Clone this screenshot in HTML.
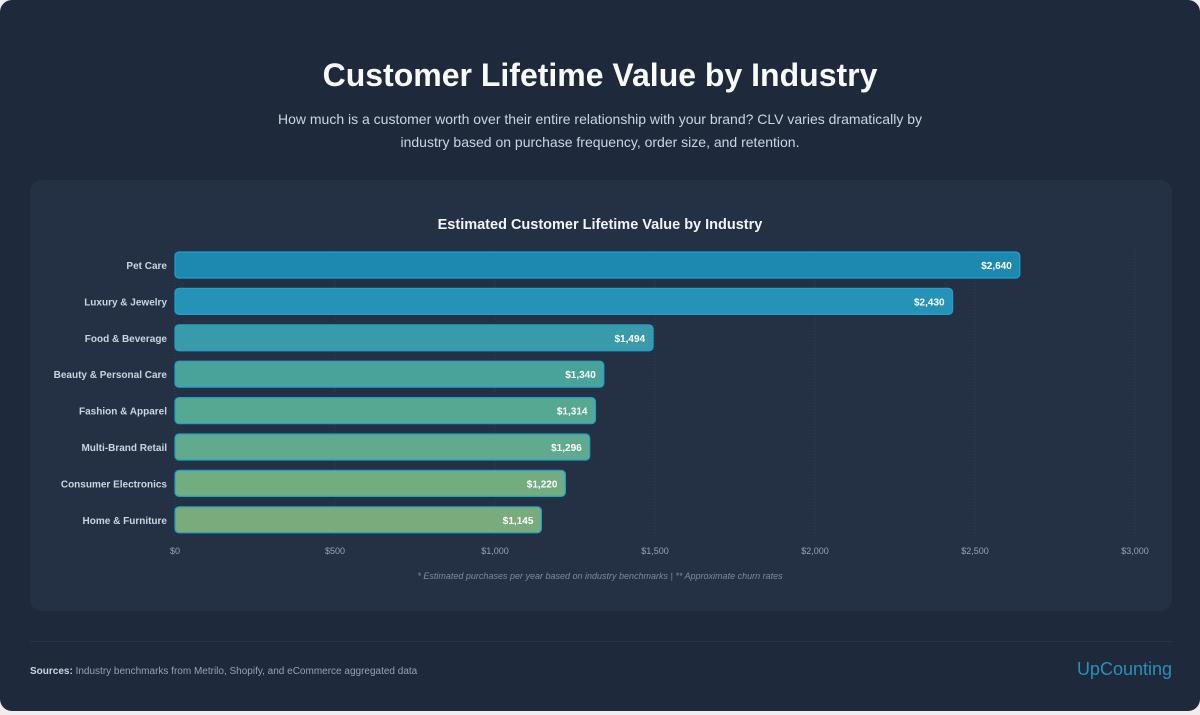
<!DOCTYPE html>
<html><head><meta charset="utf-8"><style>
body{margin:0;width:1200px;height:715px;background:#eeeeee;font-family:"Liberation Sans",sans-serif;overflow:hidden}
#page{position:absolute;left:0;top:0;width:1200px;height:711px;background:#1e293b;border-radius:12px}
h1{position:absolute;top:57px;left:0;width:1200px;text-align:center;margin:0;font-size:32px;font-weight:bold;color:#f8fafc;font-family:"Liberation Sans",sans-serif}
#sub{position:absolute;top:108px;left:260px;width:680px;text-align:center;color:#cbd5e1;font-size:14px;line-height:23px}
#panel{position:absolute;left:30px;top:180px;width:1142px;height:431px;background:#243044;border-radius:12px}
#divider{position:absolute;left:30px;top:641px;width:1142px;height:1px;background:#2a3548}
#src{position:absolute;left:30px;top:666px;font-size:10px;color:#94a3b8}
#src b{color:#cbd5e1}
#logo{position:absolute;right:28px;top:659px;font-size:18px;color:#2a8fb8}
svg{position:absolute;left:0;top:0}
</style></head><body>
<div id="page">
<h1>Customer Lifetime Value by Industry</h1>
<div id="sub">How much is a customer worth over their entire relationship with your brand? CLV varies dramatically by industry based on purchase frequency, order size, and retention.</div>
<div id="panel"></div>
<div id="divider"></div>
<div id="src"><b>Sources:</b> Industry benchmarks from Metrilo, Shopify, and eCommerce aggregated data</div>
<div id="logo">UpCounting</div>
<svg id="chart" width="1200" height="715"></svg>
</div>
<script>
const categories=["Pet Care","Luxury & Jewelry","Food & Beverage","Beauty & Personal Care","Fashion & Apparel","Multi-Brand Retail","Consumer Electronics","Home & Furniture"];
const values=[2640,2430,1494,1340,1314,1296,1220,1145];
const valueLabels=["$2,640","$2,430","$1,494","$1,340","$1,314","$1,296","$1,220","$1,145"];
const ticks=[0,500,1000,1500,2000,2500,3000];
const tickLabels=["$0","$500","$1,000","$1,500","$2,000","$2,500","$3,000"];
const colors=["#1d89b1","#2593b8","#399ba9","#4aa39a","#57a893","#61aa8d","#72ac81","#7aab7c"];
const NS="http://www.w3.org/2000/svg";
const svg=document.getElementById('chart');
const x0=175,x1=1135,yTop=265,step=36.4,bh=26;
const xs=v=>x0+(v/3000)*(x1-x0);
const ys=i=>yTop+i*step;
function mk(t,a,txt){const e=document.createElementNS(NS,t);for(const k in a)e.setAttribute(k,a[k]);if(txt!=null)e.textContent=txt;svg.appendChild(e);return e;}
let e=mk('text',{x:600,y:229,'text-anchor':'middle','font-size':14.5,'font-weight':'bold',fill:'#f1f5f9'},'Estimated Customer Lifetime Value by Industry');


ticks.forEach((t,i)=>{
 let g=mk('line',{x1:xs(t),x2:xs(t),y1:250,y2:538,stroke:'#334155','stroke-dasharray':'1,2','stroke-width':1});
 
 
 let l=mk('text',{x:xs(t),y:554,'text-anchor':'middle','font-size':9,fill:'#94a3b8'},tickLabels[i]);
 
 
});
categories.forEach((c,i)=>{
 const y=ys(i);
 let r=mk('rect',{x:x0,y:y-bh/2,width:xs(values[i])-x0,height:bh,rx:4,fill:colors[i],stroke:'#1ea2cc','stroke-width':1.2});
 
 
 let l=mk('text',{x:x0-8,y:y+4,'text-anchor':'end','font-size':10,'font-weight':'bold',fill:'#cbd5e1'},c);
 
 
 let v=mk('text',{x:xs(values[i])-8,y:y+4,'text-anchor':'end','font-size':10,'font-weight':'bold',fill:'#ffffff'},valueLabels[i]);
 
 
});
e=mk('text',{x:600,y:579,'text-anchor':'middle','font-size':9,'font-style':'italic',fill:'#7c8aa0'},'* Estimated purchases per year based on industry benchmarks | ** Approximate churn rates');


</script>
</body></html>
